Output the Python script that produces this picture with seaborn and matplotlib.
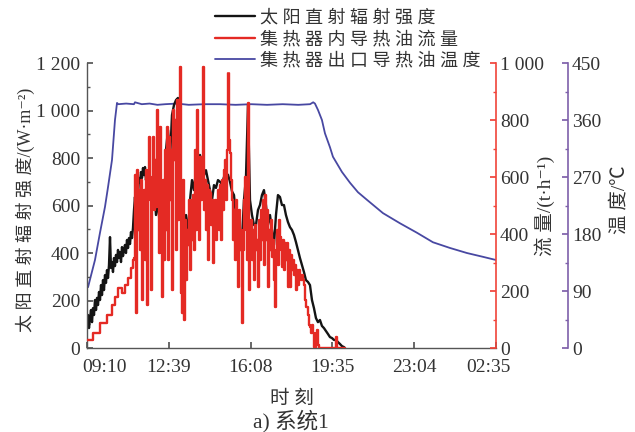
import matplotlib
matplotlib.use("Agg")
import matplotlib.pyplot as plt
import matplotlib.transforms as mtransforms
from matplotlib.ticker import MultipleLocator, FuncFormatter
import seaborn as sns
import pandas as pd

# ---------------- data (minutes after 09:10) ----------------
dni_t = [0, 2.6, 5.1, 7.7, 10.2, 12.8, 15.3, 17.9, 20.4, 23.0, 25.6, 28.1, 30.7, 33.2, 35.8,
         38.3, 40.9, 43.4, 46.0, 48.5, 51.1, 53.7, 56.2, 58.8, 61.3, 63.9, 66.4, 69.0, 71.5,
         74.1, 76.7, 79.2, 81.8, 84.3, 86.9, 89.4, 92.0, 94.5, 97.1, 99.6, 102.2, 104.8, 107.3,
         109.9, 112.4, 115.0, 117.5, 120.1, 122.6, 125.2, 127.8, 130.3, 132.9, 135.4, 138.0,
         140.5, 143.1, 145.6, 148.2, 150.7, 153.3, 155.9, 158.4,
         161.0, 166.1, 171.2, 176.3, 181.4, 186.5, 191.6, 196.7, 201.8, 207.0, 212.1, 217.2,
         222.3, 227.4, 232.5, 237.6, 242.7, 247.8, 253.0, 258.1, 263.2, 268.3, 273.4, 278.5,
         283.6, 288.7, 293.8, 298.9, 304.0, 309.2, 314.3, 319.4, 324.5, 329.6, 334.7, 339.8,
         344.9, 350.0, 355.1, 360.2, 365.4, 370.5, 375.6, 380.7, 385.8, 390.9, 396.0, 401.1,
         406.2, 411.4, 416.5, 421.6, 426.7, 431.8, 436.9, 442.0, 447.1, 452.2, 457.3, 462.5,
         467.6, 472.7, 477.8, 482.9, 488.0, 493.1, 498.2, 503.3, 508.4, 513.6, 518.7, 523.8,
         528.9, 534.0, 539.1, 544.2, 549.3, 554.4, 559.5, 564.7, 569.8, 574.9, 580.0, 585.1,
         590.2, 595.3, 600.4, 605.5, 610.6, 615.8, 620.9, 626.0, 631.1, 636.2, 641.3, 646.4,
         651.5, 656.6, 659.2]
dni = [97, 139, 84, 126, 160, 109, 168, 139, 202, 160, 211, 181, 236, 202, 265, 223, 286, 244,
       307, 274, 328, 295, 349, 467, 337, 362, 320, 379, 345, 392, 362, 413, 379, 404, 362, 425,
       387, 413, 434, 400, 455, 421, 463, 438, 488, 463, 505, 581, 636, 560, 686, 644, 716, 695,
       741, 716, 758, 728, 762, 707, 741, 665, 716,
       707, 623, 686, 560, 623, 497, 560, 518, 834, 918, 792, 981, 1023, 1044, 1053, 876, 497,
       349, 560, 476, 623, 707, 665, 749, 792, 813, 771, 728, 749, 707, 665, 623, 686, 674, 707,
       700, 690, 720, 700, 730, 700, 660, 644, 560, 476, 413, 455, 623, 716, 1023, 623, 560, 518,
       518, 581, 602, 644, 665, 602, 518, 560, 497, 434, 560, 644, 636, 602, 602, 560, 530, 509,
       497, 476, 446, 413, 379, 349, 320, 286, 278, 265, 202, 168, 126, 109, 118, 93, 84, 72, 59,
       46, 42, 34, 34, 25, 17, 8, 4, 0]

flow_t = [0, 15.3, 33.2, 51.1, 63.9, 71.5, 79.2, 89.4, 97.1, 104.8, 112.4, 117.5,
          120.1, 122.6, 125.2, 127.8, 130.3, 132.9, 135.4, 138.0, 140.5, 143.1, 145.6, 148.2,
          150.7, 153.3, 155.9, 158.4, 161.0, 163.5, 166.1, 168.6, 171.2, 173.7, 176.3, 178.9,
          181.4, 184.0, 186.5, 189.1, 191.6, 194.2, 196.7, 199.3, 201.8, 204.4, 207.0, 209.5,
          212.1, 214.6, 217.2, 219.7, 222.3, 224.8, 227.4, 230.0, 232.5, 235.1, 237.6, 240.2,
          242.7, 245.3, 247.8, 250.4, 253.0, 255.5, 258.1, 260.6, 263.2, 265.7, 268.3, 270.8,
          273.4, 275.9, 278.5, 281.1, 283.6, 286.2, 288.7, 291.3, 293.8, 296.4, 298.9, 301.5,
          304.0, 306.6, 309.2, 311.7, 314.3, 316.8, 319.4, 321.9, 324.5, 327.0, 329.6, 332.1,
          334.7, 337.2, 339.8, 342.4, 344.9, 347.5, 350.0, 352.6, 355.1, 357.7, 360.2, 362.8,
          365.4, 367.9, 370.5, 373.0, 375.6, 378.1, 380.7, 383.2, 385.8, 388.4, 390.9, 393.5,
          396.0, 398.6, 401.1, 403.7, 406.2, 408.8, 411.4, 413.9, 416.5, 419.0, 421.6, 424.1,
          426.7, 429.2, 431.8, 434.4, 436.9, 439.5, 442.0, 444.6, 447.1, 449.7, 452.2, 454.8,
          457.3, 459.9, 462.5, 465.0, 467.6, 470.1, 472.7, 475.2, 477.8, 480.3, 482.9, 485.4,
          488.0, 490.6, 493.1, 495.7, 498.2, 500.8, 503.3, 505.9, 508.4, 511.0, 513.6, 516.1,
          518.7, 521.2, 523.8, 526.3, 528.9, 531.4, 534.0, 536.6, 539.1, 541.7, 544.2, 546.8,
          549.3, 551.9, 554.4, 557.0, 559.5, 562.1, 564.7, 567.2, 569.8, 572.3, 574.9, 577.4,
          580.0, 582.5, 585.1, 587.6, 590.2, 592.8, 633.6, 636.2, 638.7, 659.2]
flow = [28, 53, 88, 116, 151, 179, 211, 193, 221, 246, 281, 309,
        316, 607, 123, 625, 414, 554, 344, 589, 168, 519, 554, 309, 625, 151, 519, 740, 600,
        204, 589, 740, 484, 660, 495, 835, 695, 333, 775, 519, 179, 589, 309, 695, 414, 775,
        309, 740, 519, 695, 204, 835, 660, 800, 344, 870, 449, 695, 986, 193, 123, 589, 98,
        449, 239, 414, 361, 519, 274, 519, 379, 537, 344, 695, 414, 835, 589, 379, 670, 519,
        660, 986, 484, 589, 414, 572, 309, 554, 544, 432, 519, 298, 484, 519, 379, 484, 554,
        414, 572, 379, 589, 484, 625, 660, 519, 695, 965, 730, 684, 589, 519, 379, 484, 309,
        519, 379, 214, 484, 344, 414, 88, 344, 519, 600, 414, 309, 860, 204, 379, 449, 309,
        414, 239, 432, 344, 379, 214, 449, 309, 484, 379, 519, 291, 537, 379, 484, 214, 414,
        344, 449, 319, 379, 239, 144, 344, 414, 291, 449, 389, 344, 284, 379, 274, 368, 309,
        368, 214, 344, 214, 326, 274, 309, 256, 291, 204, 274, 221, 274, 256, 239, 256, 239,
        221, 168, 144, 144, 116, 81, 74, 53, 81, 53, 4, 0, 53, 63, 11, 0, 0, 39, 0, 0]

temp_t = [2.6, 20.4, 33.2, 46.0, 53.7, 63.9, 71.5, 76.7, 80, 100, 120, 122.6, 140, 160, 180,
          200, 230, 260, 300, 340, 380, 420, 460, 500, 540, 570, 578, 582.5, 590.2, 600.4,
          608.1, 620.9, 628.5, 651.5, 672.0, 692.4, 715.4, 756.3, 799.7, 843.2, 884.0, 927.5,
          970.9, 1011.8, 1045]
temp = [96, 139, 182, 223, 254, 297, 360, 387, 385, 386, 385, 388, 385, 386, 384, 385, 386,
        384, 385, 385, 384, 385, 384, 385, 384, 385, 388, 386, 376, 360, 339, 317, 302, 278,
        261, 246, 234, 213, 197, 182, 167, 158, 150, 144, 139]

xtick_pos = [0, 209, 418, 627, 836, 1045]
xtick_labels = ["09:10", "12:39", "16:08", "19:35", "23:04", "02:35"]

labels = ["太 阳 直 射 辐 射 强 度", "集 热 器 内 导 热 油 流 量", "集 热 器 出 口 导 热 油 温 度"]

df_dni = pd.DataFrame({"t": dni_t, "v": dni})
df_flow = pd.DataFrame({"t": flow_t, "v": flow})
df_temp = pd.DataFrame({"t": temp_t, "v": temp})

# ---------------- style ----------------
sns.set_theme(style="ticks")
plt.rcParams["font.family"] = ["Liberation Serif", "Noto Sans CJK SC", "DejaVu Serif"]
plt.rcParams["axes.unicode_minus"] = False

C_BLACK = "#141414"
C_RED = "#e42a24"
C_BLUE = "#4848a2"
C_RSPINE = "#f0443a"
C_PSPINE = "#7e60aa"
C_TXT = "#333333"

fig = plt.figure(figsize=(6.35, 4.32), dpi=100)
ax = fig.add_axes([0.137, 0.1944, 0.644, 0.6597])
ax2 = ax.twinx()
ax3 = ax.twinx()
ax3.spines["right"].set_position(("axes", 1.176))

ax3.set_zorder(1)
ax.set_zorder(2)
ax2.set_zorder(3)
ax.patch.set_visible(False)
ax2.patch.set_visible(False)
ax3.patch.set_facecolor("#fdfbf6")

sns.lineplot(data=df_temp, x="t", y="v", ax=ax3, color=C_BLUE, lw=1.3, legend=False)
sns.lineplot(data=df_dni, x="t", y="v", ax=ax, color=C_BLACK, lw=1.7, legend=False)
sns.lineplot(data=df_flow, x="t", y="v", ax=ax2, color=C_RED, lw=1.7,
             drawstyle="steps-post", legend=False)

for a in (ax, ax2, ax3):
    a.set_xlim(0, 1045)
    a.set_xlabel("")
    a.set_ylabel("")
ax.set_ylim(0, 1200)
ax2.set_ylim(0, 1000)
ax3.set_ylim(0, 450)

# spines
ax.spines["top"].set_visible(False)
ax.spines["right"].set_visible(False)
for s in ("left", "bottom"):
    ax.spines[s].set_color("#555555")
    ax.spines[s].set_linewidth(1.0)
for s in ("top", "left", "bottom"):
    ax2.spines[s].set_visible(False)
    ax3.spines[s].set_visible(False)
ax2.spines["right"].set_color(C_RSPINE)
ax2.spines["right"].set_linewidth(1.2)
ax3.spines["right"].set_color(C_PSPINE)
ax3.spines["right"].set_linewidth(1.2)

thousand = FuncFormatter(lambda v, p: f"{v:,.0f}".replace(",", " "))

ax.set_xticks(xtick_pos)
ax.set_xticklabels(xtick_labels)
ax.yaxis.set_major_locator(MultipleLocator(200))
ax.yaxis.set_minor_locator(MultipleLocator(100))
ax.yaxis.set_major_formatter(thousand)
ax.tick_params(axis="both", which="both", direction="in", labelsize=14, colors="#555555",
               labelcolor=C_TXT)
ax.tick_params(axis="both", which="major", length=4, pad=5)
ax.tick_params(axis="x", which="major", pad=8)
ax.tick_params(axis="y", which="minor", length=2.5)

ax2.yaxis.set_major_locator(MultipleLocator(200))
ax2.yaxis.set_minor_locator(MultipleLocator(100))
ax2.yaxis.set_major_formatter(thousand)
ax2.tick_params(axis="y", which="both", direction="in", colors=C_RSPINE, labelcolor=C_TXT,
                labelsize=14, pad=3)
ax2.tick_params(axis="y", which="major", length=4)
ax2.tick_params(axis="y", which="minor", length=2.5)

ax3.yaxis.set_major_locator(MultipleLocator(90))
ax3.yaxis.set_minor_locator(MultipleLocator(45))
ax3.tick_params(axis="y", which="both", direction="in", colors=C_PSPINE, labelcolor=C_TXT,
                labelsize=14, pad=3)
ax3.tick_params(axis="y", which="major", length=4)
ax3.tick_params(axis="y", which="minor", length=2.5)
ax2.tick_params(axis="x", which="both", bottom=False, top=False, labelbottom=False)
ax3.tick_params(axis="x", which="both", bottom=False, top=False, labelbottom=False)

# shift first / last x tick labels like the reference
xl = ax.get_xticklabels()
xl[0].set_transform(xl[0].get_transform() + mtransforms.ScaledTranslation(18 / 100, 0, fig.dpi_scale_trans))
xl[-1].set_transform(xl[-1].get_transform() + mtransforms.ScaledTranslation(-7 / 100, 0, fig.dpi_scale_trans))

# axis labels
ax.set_ylabel("太 阳 直 射 辐 射 强 度/(W·m⁻²)", fontsize=13, color=C_TXT)
ax.yaxis.set_label_coords(-0.128, 0.484)
ax2.set_ylabel("流 量/(t·h⁻¹)", fontsize=14, color=C_TXT)
ax2.yaxis.set_label_coords(1.093, 0.5)
ax3.set_ylabel("温 度/℃", fontsize=14, color=C_TXT)
ax3.yaxis.set_label_coords(1.28, 0.52)
ax.set_xlabel("时 刻", fontsize=14, color=C_TXT)
ax.xaxis.set_label_coords(0.5, -0.15)

fig.text(291 / 635, 1 - 421 / 432, "a) 系统1", ha="center", va="center", fontsize=15.5, color=C_TXT)

# legend
handles = [ax.get_lines()[0], ax2.get_lines()[0], ax3.get_lines()[0]]
leg = fig.legend(handles, labels, loc="upper left", bbox_to_anchor=(213 / 635, 1 - 8 / 432),
                 fontsize=13, frameon=True, framealpha=1, edgecolor="white", facecolor="white",
                 handlelength=2.25, handletextpad=0.25, labelspacing=0.23, borderpad=0.1,
                 borderaxespad=0, fancybox=False)
for t in leg.get_texts():
    t.set_color(C_TXT)
leg.set_zorder(10)

fig.savefig("out.png", dpi=100, facecolor="white")
